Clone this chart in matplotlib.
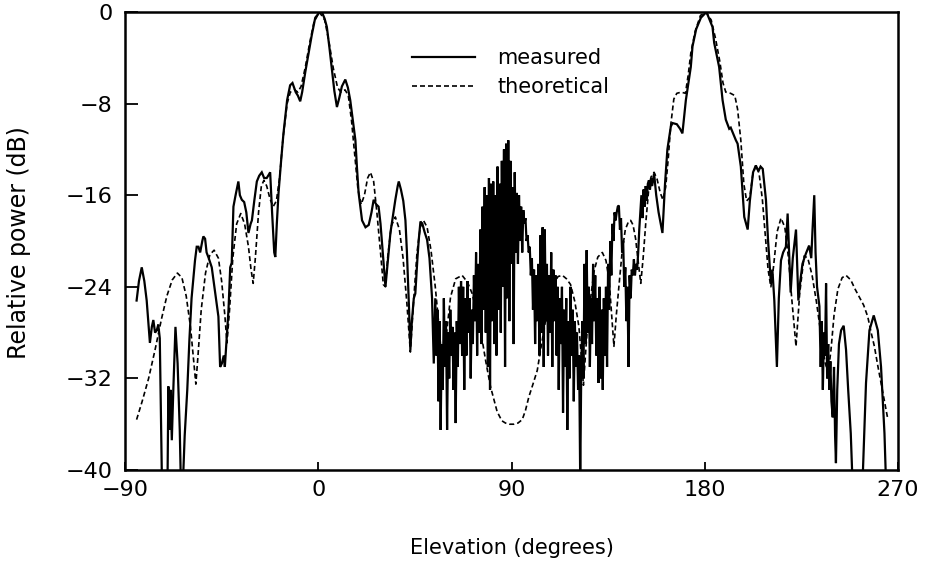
import numpy as np
import matplotlib
matplotlib.use("Agg")
import matplotlib.pyplot as plt

# ---------------- data ----------------
x_ticks = [-90, 0, 90, 180, 270]
x_ticklabels = ["\u221290", "0", "90", "180", "270"]
y_ticks = [0, -8, -16, -24, -32, -40]
y_ticklabels = ["0", "\u22128", "\u221216", "\u221224", "\u221232", "\u221240"]

# measured pattern, left part (elevation deg, dB)
measured_left = [
    (-84.6, -25.2), (-83.5, -23.5), (-82.2, -22.3), (-81, -23.5), (-79.9, -25.2),
    (-78.4, -28.9), (-77.5, -27.5), (-76.8, -26.9), (-76, -28), (-75.2, -27.8),
    (-74.5, -27.3), (-73.8, -28.5), (-72.8, -41), (-70.2, -41), (-69.8, -32.7),
    (-69.3, -36.5), (-68.8, -33), (-68.2, -37.4), (-67.5, -33), (-66.5, -27.5),
    (-65.5, -30.7), (-64.5, -36.5), (-64, -41), (-63, -41), (-62.2, -37),
    (-61, -33), (-60, -28.6), (-59, -25), (-57.4, -21.7), (-56.6, -20.5),
    (-55.8, -20.5), (-55, -21), (-54, -20), (-53.5, -19.6), (-52.7, -19.8),
    (-52, -21), (-51, -21.5), (-49.6, -22.3), (-48, -24.5), (-46.5, -26.6),
    (-45.7, -31), (-44.9, -30.7), (-44, -30), (-43.5, -31), (-42.5, -28),
    (-41.8, -26), (-41, -22.3), (-40.3, -21.9), (-39.5, -17), (-38.5, -16),
    (-37.2, -14.8), (-36.5, -16), (-35.6, -16.4), (-34.5, -16.6), (-33.5, -17.5),
    (-32.5, -19.3), (-31.5, -18.5), (-30.9, -18.2), (-29.8, -16.5), (-28.6, -14.8),
    (-27.5, -14.3), (-26.3, -14), (-25.2, -14.5), (-24, -14.5), (-23, -14.2),
    (-22.4, -14), (-21.5, -17.5), (-20.5, -21), (-20, -21.4), (-19.3, -18.5),
    (-18.5, -15.8), (-17.3, -13), (-16.2, -10.6), (-14.5, -7.7), (-13.1, -6.4),
    (-12, -6.2), (-10.5, -7), (-9.5, -7.3), (-8.4, -7.8), (-7.5, -7),
    (-6, -5.2), (-4.5, -3.6), (-3, -2), (-1.4, -0.5), (0.5, -0.05),
    (1.7, 0), (3, -0.6), (4, -1.3), (5.2, -3.1), (6.4, -5.1),
    (7.5, -6.9), (8.7, -8.3), (9.8, -7.5), (11, -6.5), (12.6, -5.9),
    (13.8, -6.6), (14.9, -7.7), (16, -9.3), (17.3, -11.2), (18, -13.5),
    (18.8, -15.8), (20.4, -18.2), (22, -18.8), (23.5, -18.6), (24.8, -17.5),
    (25.8, -16.4), (27, -16.8), (28.1, -17), (29, -18.5), (29.7, -20.2),
    (31.3, -24), (32.5, -21.5), (33.6, -19.3), (35, -17.5), (35.9, -16.4),
    (37, -15.2), (37.5, -14.8), (38.5, -15.5), (39.6, -16.5), (40.6, -18.2),
    (41.3, -21), (42.3, -26), (42.9, -29.5), (43.6, -27), (44.5, -25),
    (45.2, -24.6), (46.2, -21.5), (46.8, -19.9), (47.6, -18.3), (48.5, -18.5),
    (49.5, -19.2), (50.7, -19.9), (51.8, -21.5), (53, -25), (53.8, -30.7),
]

# measured pattern, noisy middle part, sampled every 0.5 deg from 54 to 150
noise_start, noise_step = 54.0, 0.5
measured_noise = [
    -29, -25, -30, -26, -34, -27, -36.5, -29, -33, -25, -31, -27, -36.5,
    -28, -32, -26, -30, -27.5, -33, -28, -35.9, -27, -31,
    -24, -29, -23.5, -30, -24, -33, -25, -30, -23.5, -28,
    -25, -32, -26, -29, -23, -27, -21, -30, -22, -28,
    -19, -29, -17, -26, -15.3, -28, -16, -31, -14.5, -33,
    -15, -27, -14.8, -29, -16, -30, -13.5, -26, -15, -28,
    -13, -24, -12, -31, -11.5, -25, -11.2, -27, -13, -22,
    -15.3, -29, -14, -21, -15.8, -22, -16, -20, -17, -21,
    -17.3, -18.5, -18, -20, -19.5, -21, -20.5, -23, -21.5, -26,
    -22.5, -29, -23, -27, -22, -30, -19.5, -28, -18.8, -31,
    -19, -27, -22, -30, -23, -28, -21, -31, -22.5, -27,
    -23, -30, -24, -33, -25, -29, -24, -35, -26, -31,
    -25, -36.5, -27, -32, -24, -30, -26, -34, -27, -31,
    -28, -33, -30, -41, -31, -27, -32, -22, -29, -20.8,
    -28, -24, -31, -25, -29, -22, -27, -23, -30, -25,
    -32.4, -24, -32, -26, -33, -25, -30, -24, -31, -22,
    -26, -20, -23, -18.5, -20, -17.5, -18.2, -17.5, -17, -16.9,
    -19, -18, -21, -20, -24, -22.3, -27, -24, -31, -23,
    -25, -22.5, -23, -21.6, -23, -22, -22.5, -21, -19, -17.5,
]

# measured pattern, right part (elevation deg, dB)
measured_right = [
    (150.5, -16), (151, -18), (151.5, -15.5), (152, -17), (152.5, -15.2),
    (153, -16.5), (153.5, -15), (154, -14.7), (154.5, -15.5), (155, -14.5),
    (155.5, -15.2), (156.4, -14.1), (157.4, -16), (158.5, -17.5), (160.3, -19.3),
    (161.5, -15), (162.6, -12), (164.2, -10), (165, -9.7), (167, -9.8),
    (168.5, -10.2), (169.6, -10.6), (171.2, -7.7), (173.5, -4.8), (174.3, -3),
    (176, -1.5), (178.2, -0.5), (180.8, 0), (183.6, -1.3), (184.4, -2.7),
    (186.7, -4.8), (188.3, -7.7), (189.8, -9.4), (191.4, -10.2), (192.1, -10.1),
    (194.5, -11.2), (195.3, -11.5), (196.8, -13.5), (198.4, -17.9), (200, -19),
    (201, -16.5), (202.5, -14), (203.8, -13.4), (205, -13.9), (206, -13.5),
    (207, -13.7), (208.5, -16.4), (209.5, -20), (210.8, -23.7), (211.5, -22.5),
    (212.4, -25.2), (213.6, -31), (214.5, -25), (215.5, -21.7), (216.5, -21),
    (217.8, -20.5), (218.6, -17.6), (219.3, -21), (220, -24.5), (221, -21.5),
    (222.5, -19), (223.6, -25.2), (224.5, -23.5), (225.5, -22), (227.1, -21.1),
    (228.6, -20.4), (229.6, -21.5), (230.2, -19), (231, -16), (231.6, -21),
    (232.3, -24), (233.4, -25.7), (234, -31), (234.5, -27), (235, -33),
    (235.5, -28), (236, -30), (236.5, -23.7), (237, -32), (237.5, -29),
    (238, -33), (238.5, -30.5), (239, -34), (239.6, -35.4), (240.2, -31),
    (240.7, -37), (241.1, -39.4), (241.7, -33), (242.5, -29), (243.5, -27.8),
    (244.7, -27.4), (245.8, -29.5), (246.8, -33), (248, -36.8), (248.8, -41),
    (253.5, -41), (255.1, -32.4), (256.7, -27.8), (258.7, -26.5), (260.6, -27.8),
    (262.1, -31), (263.7, -36.8), (264.4, -41),
]

# theoretical pattern (elevation deg, dB)
theoretical = [
    (-84.6, -35.6), (-82, -34), (-79, -32), (-76, -29.5), (-73, -26.8),
    (-70.5, -24.8), (-68, -23.4), (-65.6, -22.8), (-63.5, -23.2), (-61.5, -24.8),
    (-59.5, -27.5), (-58, -30.5), (-57, -32.5), (-56, -30), (-54.5, -26),
    (-52.5, -22.8), (-50.5, -21.2), (-48.5, -20.8), (-46.5, -21.5), (-45, -23.5),
    (-43.5, -26.5), (-42.5, -28.9), (-41.3, -26), (-39.8, -21.5), (-38, -18.5),
    (-36.1, -17.6), (-34.3, -18.5), (-32.5, -20.5), (-31.3, -22.5), (-30.3, -23.7),
    (-29.3, -21.5), (-27.8, -17.5), (-26.5, -15.2), (-25.3, -14.7), (-24, -15.2),
    (-22.5, -16.3), (-21, -17.0), (-19.5, -16.5), (-18, -14.5), (-16.5, -11.2),
    (-14.5, -8), (-13, -7.0), (-11, -6.8), (-9.5, -7.0), (-8, -6.5),
    (-6, -4.8), (-4, -2.7), (-2, -0.9), (0.5, 0), (3, -0.7),
    (5, -2.6), (7, -4.9), (9, -6.6), (10.5, -7.0), (12.5, -6.8),
    (14, -7.3), (15.5, -9.5), (17, -12.5), (18.5, -15.5), (20, -16.8),
    (21.5, -16.0), (23, -14.5), (24.3, -14.0), (25.8, -14.8), (27.3, -17.5),
    (29, -21), (30.3, -23.8), (31.3, -24), (32.3, -21.5), (34, -18.7),
    (35.9, -17.9), (37.8, -19), (39.5, -21.5), (41.3, -25.5), (42.9, -29.7),
    (44.5, -25), (46, -21), (47.5, -18.8), (49, -18.2), (50.7, -18.8),
    (52.5, -20.8), (54.5, -24), (56.5, -28), (58, -31.5), (59.5, -28.5),
    (61.6, -24.9), (64, -23.3), (67, -23), (69.5, -23.6), (71.7, -24.6),
    (73.5, -26), (75.6, -27.8), (78, -30.5), (80.2, -32.7), (83.3, -34.9),
    (85.5, -35.7), (87.2, -35.9), (89, -36), (91.1, -36), (93, -35.9),
    (95, -35.6), (96.5, -34.8), (98.1, -33.6), (100, -32.5), (102, -31.3),
    (104, -29), (105.9, -26.9), (107.8, -24.8), (109.7, -23.7), (111.7, -23.1),
    (113.7, -23), (115.6, -23.3), (117.5, -23.8), (119.5, -25.3), (121.4, -27.5),
    (122.5, -30), (123.5, -32.6), (124.6, -29.5), (125.8, -26.5), (126.9, -24.9),
    (128.5, -22.6), (130.2, -21.4), (132.3, -21), (134, -21.7), (135.5, -23.5),
    (136.6, -26.3), (137.7, -29.2), (138.8, -26.5), (140, -24), (141.5, -21),
    (143, -19), (144.5, -18.3), (145.5, -18.2), (146.6, -18.6), (147.8, -19.8),
    (149, -21.8), (150.2, -23.7), (151.3, -21.5), (152.5, -18.5), (153.8, -15.7),
    (155, -14.4), (156.4, -14), (157.8, -14.6), (159.3, -15.8), (160.5, -16.4),
    (161.8, -15.3), (163, -12.8), (164.2, -9.8), (165.6, -7.6), (167, -7.1),
    (169, -7.0), (171, -7.1), (172.3, -5.5), (173.5, -3.6), (175.5, -1.7),
    (178, -0.3), (180.5, 0), (183, -0.7), (185, -2.3), (187, -4.3),
    (188.5, -6.2), (189.8, -7.0), (192, -7.1), (194, -7.3), (195.3, -8.5),
    (196.8, -11.2), (198.2, -15), (199.5, -16.5), (201, -16.2), (202.3, -14.3),
    (203.8, -13.4), (205.3, -14.1), (206.8, -16.3), (208.3, -19.8), (209.5, -22.5),
    (210.8, -24), (212, -22.3), (213.7, -19.2), (215.5, -18), (217.3, -18.8),
    (219, -21.5), (220.5, -25), (222.5, -29.2), (224.2, -24.6), (226.3, -21.3),
    (228, -21.5), (230, -23), (232, -25.3), (234, -28), (236, -30.6),
    (237.5, -31.5), (238.8, -29.5), (240.2, -26.5), (242, -24.2), (244, -23.2),
    (245.8, -23), (248, -23.4), (250, -24.2), (252, -24.9), (254, -25.6),
    (255.9, -26.6), (257.5, -28), (259, -29.2), (260.5, -30.8), (262.1, -32.4),
    (263.7, -34), (265.2, -35.5),
]

series_labels = ["measured", "theoretical"]
x_title = "Elevation (degrees)"
y_title = "Relative power (dB)"

# ---------------- assemble ----------------
ml = np.array(measured_left)
mr = np.array(measured_right)
noise_x = noise_start + noise_step * np.arange(len(measured_noise))
meas_x = np.concatenate([ml[:, 0], noise_x, mr[:, 0]])
meas_y = np.concatenate([ml[:, 1], np.array(measured_noise), mr[:, 1]])
th = np.array(theoretical)

# ---------------- figure ----------------
W, H = 931, 571
fig = plt.figure(figsize=(W / 100, H / 100), dpi=100)
fig.patch.set_facecolor("white")
L, R, T, B = 125, 898, 12, 470
ax = fig.add_axes([L / W, 1 - B / H, (R - L) / W, (B - T) / H])

ax.plot(meas_x, meas_y, color="black", lw=1.6, solid_joinstyle="miter",
        label=series_labels[0])
ax.plot(th[:, 0], th[:, 1], color="black", lw=1.2, linestyle=(0, (3.0, 1.8)),
        label=series_labels[1])

ax.set_xlim(-90, 270)
ax.set_ylim(-40, 0)

for s in ax.spines.values():
    s.set_linewidth(1.8)
    s.set_color("black")

ax.set_xticks(x_ticks)
ax.set_xticklabels(x_ticklabels)
ax.set_yticks(y_ticks)
ax.set_yticklabels(y_ticklabels)
ax.tick_params(axis="x", direction="in", length=6, width=1.3, pad=7,
               labelsize=16, top=False)
ax.tick_params(axis="y", direction="in", length=9, width=1.3, pad=9,
               labelsize=16, right=False)

fig.text(512 / W, 1 - 548 / H, x_title, fontsize=15, ha="center", va="center")
fig.text(19 / W, 1 - 243 / H, y_title, fontsize=17, ha="center", va="center",
         rotation=90)

leg = ax.legend(loc="upper left",
                bbox_to_anchor=((412 - L) / (R - L), 1 - (48 - T) / (B - T)),
                frameon=False, fontsize=15, handlelength=3.0, handletextpad=1.1,
                labelspacing=0.45, borderpad=0, borderaxespad=0)

fig.savefig("out.png", dpi=100, facecolor="white")
